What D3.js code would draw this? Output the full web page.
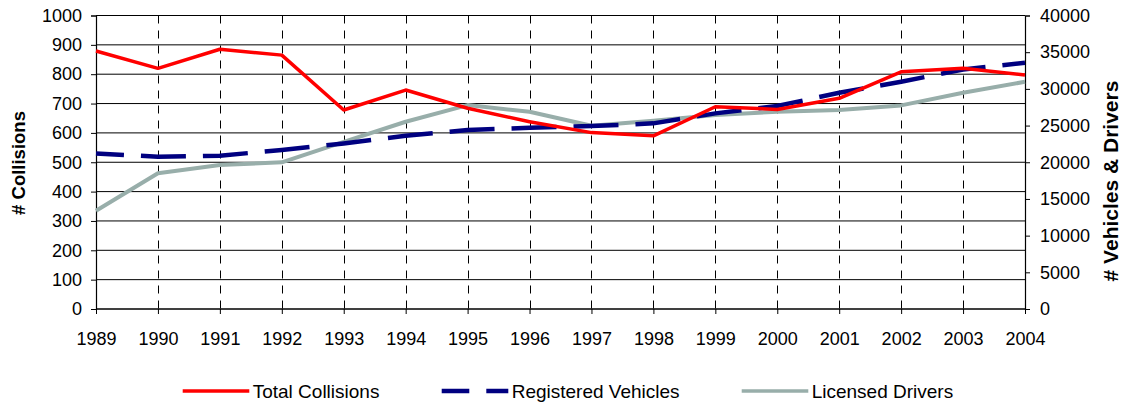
<!DOCTYPE html>
<html>
<head>
<meta charset="utf-8">
<script src="https://cdn.jsdelivr.net/npm/d3@7"></script>
<style>
  html, body { margin: 0; padding: 0; background: #fff; }
  svg { display: block; font-family: "Liberation Sans", Arial, sans-serif; }
</style>
</head>
<body>
<svg id="chart" width="1122" height="405"></svg>
<script>
const years = [1989,1990,1991,1992,1993,1994,1995,1996,1997,1998,1999,2000,2001,2002,2003,2004];
const totalCollisions = [879,820,885,865,678,746,684,638,601,590,689,680,718,808,820,797];
const registeredVehicles = [21200,20750,20900,21660,22570,23600,24390,24700,24930,25300,26660,27660,29470,30970,32650,33560];
const licensedDrivers = [13390,18490,19620,19990,22790,25520,27790,26880,24970,25650,26430,26880,27110,27750,29470,30970];
const leftTicks = [0,100,200,300,400,500,600,700,800,900,1000];
const rightTicks = [0,5000,10000,15000,20000,25000,30000,35000,40000];
const seriesNames = ["Total Collisions","Registered Vehicles","Licensed Drivers"];
const seriesColors = ["#ff0000","#000080","#98aeaa"];

(function () {
const svg = d3.select("#chart");
const pLeft = 96, pRight = 1025, pTop = 15.5, pBottom = 309;

const x = d3.scalePoint().domain(years).range([pLeft, pRight]);
const yL = d3.scaleLinear().domain([0, 1000]).range([pBottom, pTop]);
const yR = d3.scaleLinear().domain([0, 40000]).range([pBottom, pTop]);

// horizontal gridlines
svg.append("g").selectAll("line").data(leftTicks).join("line")
  .attr("x1", pLeft).attr("x2", pRight)
  .attr("y1", d => yL(d)).attr("y2", d => yL(d))
  .attr("stroke", "#000").attr("stroke-width", 1);

// vertical dashed gridlines
svg.append("g").selectAll("line").data(years.slice(1, -1)).join("line")
  .attr("x1", d => Math.round(x(d)) + 0.5).attr("x2", d => Math.round(x(d)) + 0.5)
  .attr("y1", pTop).attr("y2", pBottom)
  .attr("stroke", "#000").attr("stroke-width", 1)
  .attr("stroke-dasharray", "8,7");

// axes
const fontSize = "18px";
const gL = svg.append("g").attr("transform", `translate(${pLeft},0)`)
  .call(d3.axisLeft(yL).tickValues(leftTicks).tickSize(5).tickPadding(9).tickFormat(d3.format("d")));
const gR = svg.append("g").attr("transform", `translate(${pRight},0)`)
  .call(d3.axisRight(yR).tickValues(rightTicks).tickSize(5).tickPadding(10).tickFormat(d3.format("d")));
const gB = svg.append("g").attr("transform", `translate(0,${pBottom})`)
  .call(d3.axisBottom(x).tickSize(5).tickPadding(18).tickFormat(d3.format("d")));
[gL, gR, gB].forEach(g => {
  g.select(".domain").attr("stroke", "#000").attr("stroke-width", 1.2);
  g.selectAll(".tick line").attr("stroke", "#000");
  g.selectAll("text").attr("fill", "#000").style("font-size", fontSize)
    .style("font-family", "'Liberation Sans', Arial, sans-serif");
});
gB.select(".domain").attr("d", `M${pLeft},0H${pRight}`);

// axis titles
svg.append("text")
  .attr("transform", "translate(25,163) rotate(-90)")
  .attr("text-anchor", "middle")
  .style("font-size", "18.5px").style("font-weight", "bold")
  .text("# Collisions");
svg.append("text")
  .attr("transform", "translate(1118,181) rotate(-90)")
  .attr("text-anchor", "middle")
  .style("font-size", "21px").style("font-weight", "bold")
  .text("# Vehicles & Drivers");

// lines
const lineL = d3.line().x((d, i) => x(years[i])).y(d => yL(d));
const lineR = d3.line().x((d, i) => x(years[i])).y(d => yR(d));

svg.append("path").datum(licensedDrivers).attr("d", lineR)
  .attr("fill", "none").attr("stroke", seriesColors[2]).attr("stroke-width", 4)
  .attr("stroke-linejoin", "round");
svg.append("path").datum(registeredVehicles).attr("d", lineR)
  .attr("fill", "none").attr("stroke", seriesColors[1]).attr("stroke-width", 4.5)
  .attr("stroke-dasharray", "45,17").attr("stroke-dashoffset", 17);
svg.append("path").datum(totalCollisions).attr("d", lineL)
  .attr("fill", "none").attr("stroke", seriesColors[0]).attr("stroke-width", 3.5)
  .attr("stroke-linejoin", "round");

// legend
const legendX = [182.7, 441.7, 741.7];
const legendY = 391;
const lg = svg.append("g");
seriesNames.forEach((name, i) => {
  lg.append("line")
    .attr("x1", legendX[i]).attr("x2", legendX[i] + 66.6)
    .attr("y1", legendY).attr("y2", legendY)
    .attr("stroke", seriesColors[i]).attr("stroke-width", i === 1 ? 4.5 : 3.5)
    .attr("stroke-dasharray", i === 1 ? "27.6,17" : null);
  lg.append("text")
    .attr("x", legendX[i] + 70).attr("y", legendY + 7)
    .style("font-size", "19px").attr("fill", "#000")
    .text(name);
});
})();
</script>
</body>
</html>
